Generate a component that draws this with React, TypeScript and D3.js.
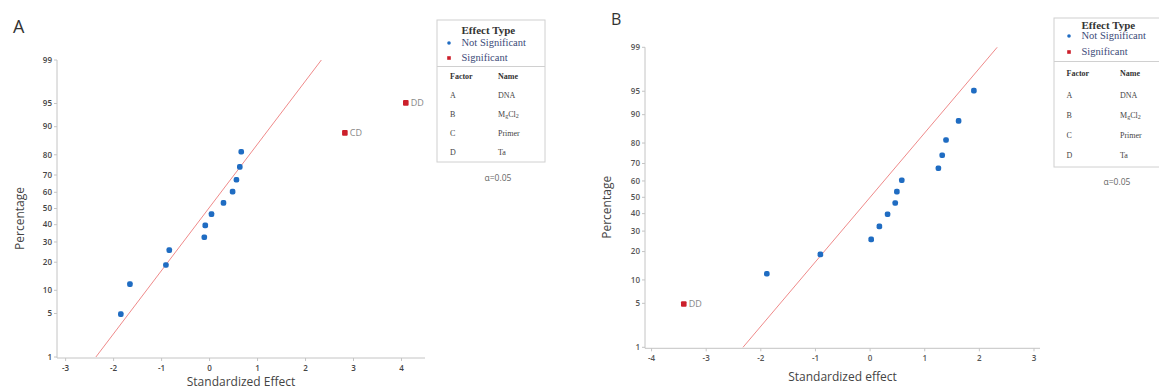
import React from "react";
import * as d3 from "d3";

// Normal probability plots of standardized effects (two experiments)
const percentages = [4.9, 11.8, 18.8, 25.7, 32.6, 39.6, 46.5, 53.5, 60.4, 67.4, 74.3, 81.3, 88.2, 95.1];
const effectsA = [-1.85, -1.66, -0.91, -0.84, -0.11, -0.09, 0.04, 0.29, 0.48, 0.56, 0.63, 0.66, 2.82, 4.09];
const termsA = ["", "", "", "", "", "", "", "", "", "", "", "", "CD", "DD"];
const effectsB = [-3.41, -1.89, -0.91, 0.02, 0.17, 0.32, 0.46, 0.49, 0.58, 1.25, 1.32, 1.39, 1.62, 1.9];
const termsB = ["DD", "", "", "", "", "", "", "", "", "", "", "", "", ""];
const percentTicks = [1, 5, 10, 20, 30, 40, 50, 60, 70, 80, 90, 95, 99];
const effectTicksA = [-3, -2, -1, 0, 1, 2, 3, 4];
const effectTicksB = [-4, -3, -2, -1, 0, 1, 2, 3];
const refLineA = { mean: -0.02, sd: 1.01 };
const refLineB = { mean: 0, sd: 1 };
const linePercents = [1, 99];
const factors = ["A", "B", "C", "D"];
const factorNames = ["DNA", "MgCl2", "Primer", "Ta"];

const BLUE = "#1f6cc2";
const RED = "#cc1f2b";

// inverse normal cdf (Acklam)
function probit(p: number) {
  const a = [-39.6968302866538, 220.946098424521, -275.928510446969, 138.357751867269, -30.6647980661472, 2.50662827745924];
  const b = [-54.4760987982241, 161.585836858041, -155.698979859887, 66.8013118877197, -13.2806815528857];
  const c = [-0.00778489400243029, -0.322396458041136, -2.40075827716184, -2.54973253934373, 4.37466414146497, 2.93816398269878];
  const d = [0.00778469570904146, 0.32246712907004, 2.445134137143, 3.75440866190742];
  const pl = 0.02425;
  if (p < pl) {
    const q = Math.sqrt(-2 * Math.log(p));
    return (((((c[0] * q + c[1]) * q + c[2]) * q + c[3]) * q + c[4]) * q + c[5]) / ((((d[0] * q + d[1]) * q + d[2]) * q + d[3]) * q + 1);
  }
  if (p > 1 - pl) {
    const q = Math.sqrt(-2 * Math.log(1 - p));
    return -(((((c[0] * q + c[1]) * q + c[2]) * q + c[3]) * q + c[4]) * q + c[5]) / ((((d[0] * q + d[1]) * q + d[2]) * q + d[3]) * q + 1);
  }
  const q = p - 0.5;
  const r = q * q;
  return ((((((a[0] * r + a[1]) * r + a[2]) * r + a[3]) * r + a[4]) * r + a[5]) * q) / (((((b[0] * r + b[1]) * r + b[2]) * r + b[3]) * r + b[4]) * r + 1);
}

type PanelProps = {
  letter: string;
  letterX: number;
  letterY: number;
  letterSize: number;
  left: number;
  right: number;
  top: number;
  bottom: number;
  xDomain: [number, number];
  xTicks: number[];
  effects: number[];
  terms: string[];
  refLine: { mean: number; sd: number };
  xTitle: string;
  yTitleX: number;
  xTitleY: number;
  tickColor: string;
};

const Panel: React.FC<PanelProps> = (p) => {
  const x = d3.scaleLinear().domain(p.xDomain).range([p.left, p.right]);
  const y = d3
    .scaleLinear()
    .domain([probit(0.01), probit(0.99)])
    .range([p.bottom, p.top]);
  const yp = (pct: number) => y(probit(pct / 100));
  const axisY = p.bottom + 1;
  const line = d3
    .line<number>()
    .x((pct) => x(p.refLine.mean + p.refLine.sd * probit(pct / 100)))
    .y((pct) => yp(pct));
  const font = "'Open Sans', 'DejaVu Sans', sans-serif";

  return (
    <g>
      <text x={p.letterX} y={p.letterY} fontFamily={font} fontSize={p.letterSize} fill="#333">
        {p.letter}
      </text>
      {/* axes */}
      <line x1={p.left} x2={p.left} y1={p.top} y2={axisY} stroke="#c4c4c4" />
      <line x1={p.left} x2={p.right} y1={axisY} y2={axisY} stroke="#c4c4c4" />
      {percentTicks.map((t) => (
        <g key={"y" + t}>
          <line x1={p.left - 3} x2={p.left} y1={yp(t)} y2={yp(t)} stroke="#c4c4c4" />
          <text x={p.left - 5} y={yp(t)} dy="0.35em" textAnchor="end" fontFamily={font} fontSize={8} fontWeight={600} fill={p.tickColor}>
            {t}
          </text>
        </g>
      ))}
      {p.xTicks.map((t) => (
        <g key={"x" + t}>
          <line x1={x(t)} x2={x(t)} y1={axisY} y2={axisY + 3} stroke="#c4c4c4" />
          <text x={x(t)} y={axisY + 10} dy="0.35em" textAnchor="middle" fontFamily={font} fontSize={8} fontWeight={600} fill={p.tickColor}>
            {t}
          </text>
        </g>
      ))}
      <text
        transform={`translate(${p.yTitleX},${(p.top + p.bottom) / 2 + 10}) rotate(-90)`}
        textAnchor="middle"
        dy="0.35em"
        fontFamily={font}
        fontSize={12}
        fill="#444"
      >
        Percentage
      </text>
      <text x={(p.left + p.right) / 2} y={p.xTitleY} textAnchor="middle" dy="0.35em" fontFamily={font} fontSize={12} fill="#444">
        {p.xTitle}
      </text>
      {/* reference line */}
      <path d={line(linePercents) || ""} fill="none" stroke="#ef8a8a" strokeWidth={1} />
      {/* points */}
      {p.effects.map((e, i) => {
        const sig = p.terms[i] !== "";
        const cx = x(e);
        const cy = yp(percentages[i]);
        return sig ? (
          <g key={i}>
            <rect x={cx - 2.8} y={cy - 2.8} width={5.6} height={5.6} fill={RED} rx={1} />
            <text x={cx + 5} y={cy} dy="0.35em" fontFamily={font} fontSize={9} fill="#888">
              {p.terms[i]}
            </text>
          </g>
        ) : (
          <rect key={i} x={cx - 2.8} y={cy - 2.8} width={5.6} height={5.6} rx={2} fill={BLUE} />
        );
      })}
    </g>
  );
};

type LegendProps = {
  x0: number;
  x1: number;
  y0: number;
  y1: number;
  sepY: number;
  textX: number;
  dotX: number;
  titleY: number;
  notSigY: number;
  sigY: number;
  factorX: number;
  nameX: number;
  headerY: number;
  rowYs: number[];
  alphaX: number;
  alphaY: number;
};

const Legend: React.FC<LegendProps> = (l) => {
  const serif = "'Liberation Serif', 'DejaVu Serif', serif";
  return (
    <g fontFamily={serif}>
      <rect x={l.x0} y={l.y0} width={l.x1 - l.x0} height={l.y1 - l.y0} fill="none" stroke="#d0d0d0" />
      <line x1={l.x0} x2={l.x1} y1={l.sepY} y2={l.sepY} stroke="#d0d0d0" />
      <text x={l.textX} y={l.titleY} dy="0.35em" fontSize={11} fontWeight="bold" fill="#333">
        Effect Type
      </text>
      <circle cx={l.dotX} cy={l.notSigY + 1} r={1.8} fill={BLUE} />
      <text x={l.textX} y={l.notSigY} dy="0.35em" fontSize={10.5} fill="#3c4a78">
        Not Significant
      </text>
      <rect x={l.dotX - 1.8} y={l.sigY - 0.8} width={3.6} height={3.6} fill={RED} />
      <text x={l.textX} y={l.sigY} dy="0.35em" fontSize={10.5} fill="#3c4a78">
        Significant
      </text>
      <text x={l.factorX} y={l.headerY} dy="0.35em" fontSize={8} fontWeight="bold" fill="#333">
        Factor
      </text>
      <text x={l.nameX} y={l.headerY} dy="0.35em" fontSize={8} fontWeight="bold" fill="#333">
        Name
      </text>
      {factors.map((f, i) => (
        <g key={f}>
          <text x={l.factorX} y={l.rowYs[i]} dy="0.35em" fontSize={8} fill="#444">
            {f}
          </text>
          <text x={l.nameX} y={l.rowYs[i]} dy="0.35em" fontSize={8} fill="#444">
            {factorNames[i] === "MgCl2" ? (
              <>
                M<tspan fontSize={6} dy="1.5">g</tspan>
                <tspan dy="-1.5">Cl</tspan>
                <tspan fontSize={6} dy="1.5">2</tspan>
              </>
            ) : (
              factorNames[i]
            )}
          </text>
        </g>
      ))}
      <text x={l.alphaX} y={l.alphaY} dy="0.35em" textAnchor="middle" fontFamily="'Open Sans', sans-serif" fontSize={8.5} fill="#666">
        α=0.05
      </text>
    </g>
  );
};

export default function App() {
  return (
    <svg width={1159} height={391} style={{ position: "absolute", left: 0, top: 0, background: "#fff" }}>
      <Panel
        letter="A"
        letterX={13}
        letterY={33}
        letterSize={18}
        left={57}
        right={425}
        top={60}
        bottom={357}
        xDomain={[-3.18, 4.49]}
        xTicks={effectTicksA}
        effects={effectsA}
        terms={termsA}
        refLine={refLineA}
        xTitle="Standardized Effect"
        yTitleX={20}
        xTitleY={382}
        tickColor="#444"
      />
      <Legend
        x0={437}
        x1={545}
        y0={20}
        y1={162}
        sepY={66.5}
        textX={461.5}
        dotX={449}
        titleY={30}
        notSigY={42}
        sigY={57}
        factorX={450}
        nameX={498}
        headerY={76}
        rowYs={[95, 114, 133, 152.5]}
        alphaX={498}
        alphaY={178}
      />
      <Panel
        letter="B"
        letterX={611}
        letterY={25}
        letterSize={16}
        left={645}
        right={1040}
        top={47.3}
        bottom={347.3}
        xDomain={[-4.12, 3.11]}
        xTicks={effectTicksB}
        effects={effectsB}
        terms={termsB}
        refLine={refLineB}
        xTitle="Standardized effect"
        yTitleX={607}
        xTitleY={377}
        tickColor="#555"
      />
      <Legend
        x0={1054}
        x1={1175}
        y0={18}
        y1={167}
        sepY={61.5}
        textX={1081.5}
        dotX={1069}
        titleY={25}
        notSigY={35}
        sigY={51}
        factorX={1066.5}
        nameX={1120}
        headerY={73}
        rowYs={[95, 115, 135, 155.5]}
        alphaX={1117}
        alphaY={182}
      />
    </svg>
  );
}
